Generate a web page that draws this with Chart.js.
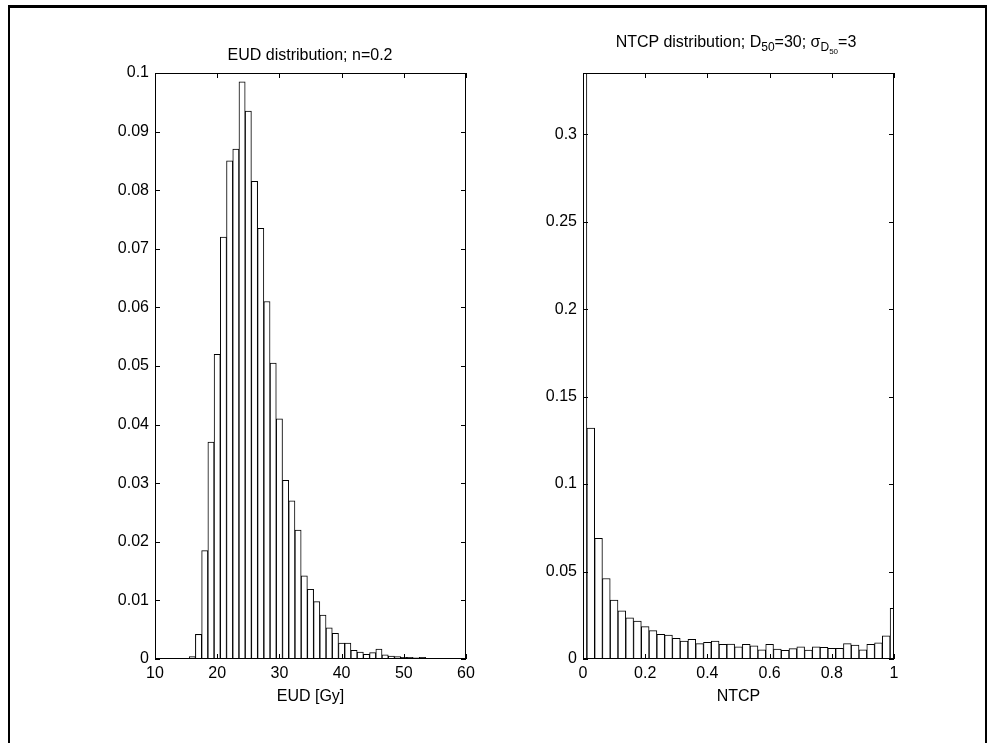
<!DOCTYPE html>
<html>
<head>
<meta charset="utf-8">
<script src="https://cdn.jsdelivr.net/npm/chart.js@4"></script>
<style>
  body { margin: 0; background: #fff; width: 993px; height: 743px; overflow: hidden; position: relative; font-family: "Liberation Sans", Arial, sans-serif; }
  .frame { position: absolute; left: 8px; top: 5px; width: 975px; height: 800px; border: 2px solid #000; border-top-width: 3px; }
  .box { position: absolute; top: 0; height: 743px; }
  #boxEud { left: 0; width: 496px; }
  #boxNtcp { left: 496px; width: 497px; }
  .title { position: absolute; font-size: 16px; color: #000; white-space: nowrap; transform: translateX(-50%); }
  #titleEud { left: 310px; top: 46px; }
  #titleNtcp { left: 736px; top: 33px; }
  .title sub { font-size: 12px; vertical-align: -4px; line-height: 0; }
  .title sub sub { font-size: 8px; vertical-align: -3px; }
</style>
</head>
<body>
<div class="frame"></div>
<div class="box" id="boxEud"><canvas id="eud"></canvas></div>
<div class="box" id="boxNtcp"><canvas id="ntcp"></canvas></div>
<div class="title" id="titleEud">EUD distribution; n=0.2</div>
<div class="title" id="titleNtcp">NTCP distribution; D<sub>50</sub>=30; &sigma;<sub>D<sub>50</sub></sub>=3</div>
<script>
// EUD histogram (bin centers in Gy, relative frequency)
const eudBins = [16, 17, 18, 19, 20, 21, 22, 23, 24, 25, 26, 27, 28, 29, 30, 31, 32, 33, 34,
  35, 36, 37, 38, 39, 40, 41, 42, 43, 44, 45, 46, 47, 48, 49, 50, 51, 52, 53];
const eudFreq = [0.0004, 0.0042, 0.0185, 0.037, 0.052, 0.072, 0.085, 0.087, 0.0985, 0.0935,
  0.0815, 0.0735, 0.061, 0.0505, 0.041, 0.0305, 0.027, 0.022, 0.0142,
  0.0119, 0.0098, 0.0075, 0.0053, 0.0044, 0.0027, 0.0027, 0.0015, 0.0012, 0.0008, 0.0011,
  0.0017, 0.0007, 0.0005, 0.0004, 0.0003, 0.0003, 0.0002, 0.0003];
const eudXTicks = [10, 20, 30, 40, 50, 60];
const eudYTicks = [0, 0.01, 0.02, 0.03, 0.04, 0.05, 0.06, 0.07, 0.08, 0.09, 0.1];

// NTCP histogram
const ntcpBins = [0, 0.025, 0.05, 0.075, 0.1, 0.125, 0.15, 0.175, 0.2, 0.225, 0.25, 0.275,
  0.3, 0.325, 0.35, 0.375, 0.4, 0.425, 0.45, 0.475, 0.5, 0.525, 0.55, 0.575, 0.6, 0.625,
  0.65, 0.675, 0.7, 0.725, 0.75, 0.775, 0.8, 0.825, 0.85, 0.875, 0.9, 0.925, 0.95, 0.975, 1];
const ntcpFreq = [0.40, 0.132, 0.069, 0.046, 0.0337, 0.0276, 0.0236, 0.0217, 0.0185, 0.0162,
  0.0141, 0.0137, 0.0118, 0.0103, 0.0112, 0.0088, 0.0095, 0.0103, 0.0084, 0.0086, 0.0070,
  0.0084, 0.0076, 0.0053, 0.0084, 0.0057, 0.0050, 0.0059, 0.0069, 0.0051, 0.0069, 0.0067,
  0.0061, 0.0061, 0.0088, 0.0080, 0.0053, 0.0084, 0.0093, 0.0133, 0.029];
const ntcpXTicks = [0, 0.2, 0.4, 0.6, 0.8, 1];
const ntcpYTicks = [0, 0.05, 0.1, 0.15, 0.2, 0.25, 0.3];

const font = { family: "'Liberation Sans', Arial, sans-serif", size: 16 };

// matlab style: box around the axes and ticks pointing inward
const matlabBox = {
  id: "matlabBox",
  afterDatasetsDraw(chart) {
    const { ctx, chartArea: a } = chart;
    const x = chart.scales.x;
    const y = chart.scales.y;
    ctx.save();
    ctx.strokeStyle = "#000";
    ctx.lineWidth = 1;
    ctx.strokeRect(a.left + 0.5, a.top + 0.5, a.right - a.left - 1, a.bottom - a.top - 1);
    ctx.beginPath();
    x.ticks.forEach((t) => {
      const px = Math.round(x.getPixelForValue(t.value)) + 0.5;
      ctx.moveTo(px, a.bottom);
      ctx.lineTo(px, a.bottom - 5);
      ctx.moveTo(px, a.top);
      ctx.lineTo(px, a.top + 5);
    });
    y.ticks.forEach((t) => {
      const py = Math.round(y.getPixelForValue(t.value)) + 0.5;
      ctx.moveTo(a.left, py);
      ctx.lineTo(a.left + 5, py);
      ctx.moveTo(a.right, py);
      ctx.lineTo(a.right - 5, py);
    });
    ctx.stroke();
    ctx.restore();
  },
};

function histogram(id, bins, freq, opts) {
  return new Chart(document.getElementById(id), {
    type: "bar",
    data: {
      datasets: [
        {
          data: bins.map((b, i) => ({ x: b, y: freq[i] })),
          backgroundColor: "#fff",
          borderColor: "#000",
          borderWidth: 1,
          barPercentage: 1,
          categoryPercentage: 1,
        },
      ],
    },
    options: {
      responsive: true,
      maintainAspectRatio: false,
      animation: false,
      layout: { padding: { top: 73, right: opts.padRight, bottom: 37, left: 0 } },
      plugins: { legend: { display: false }, tooltip: { enabled: false } },
      scales: {
        x: {
          type: "linear",
          offset: false,
          min: opts.xMin,
          max: opts.xMax,
          afterBuildTicks: (s) => { s.ticks = opts.xTicks.map((v) => ({ value: v })); },
          afterFit: (s) => { s.height = 47; },
          grid: { display: false, drawTicks: false },
          border: { display: false },
          ticks: { color: "#000", font: font, padding: 5, maxRotation: 0, callback: (v) => +v.toFixed(2) },
          title: { display: true, text: opts.xTitle, color: "#000", font: font, padding: 0 },
        },
        y: {
          min: 0,
          max: opts.yMax,
          afterBuildTicks: (s) => { s.ticks = opts.yTicks.map((v) => ({ value: v })); },
          afterFit: (s) => { s.width = opts.yWidth; },
          grid: { display: false, drawTicks: false },
          border: { display: false },
          ticks: { color: "#000", font: font, padding: 6, callback: (v) => +v.toFixed(3) },
        },
      },
    },
    plugins: [matlabBox],
  });
}

histogram("eud", eudBins, eudFreq, {
  xMin: 10, xMax: 60, yMax: 0.1, xTicks: eudXTicks, yTicks: eudYTicks,
  xTitle: "EUD [Gy]", yWidth: 155, padRight: 30,
});

histogram("ntcp", ntcpBins, ntcpFreq, {
  xMin: 0, xMax: 1, yMax: 0.335, xTicks: ntcpXTicks, yTicks: ntcpYTicks,
  xTitle: "NTCP", yWidth: 87, padRight: 99,
});
</script>
</body>
</html>
